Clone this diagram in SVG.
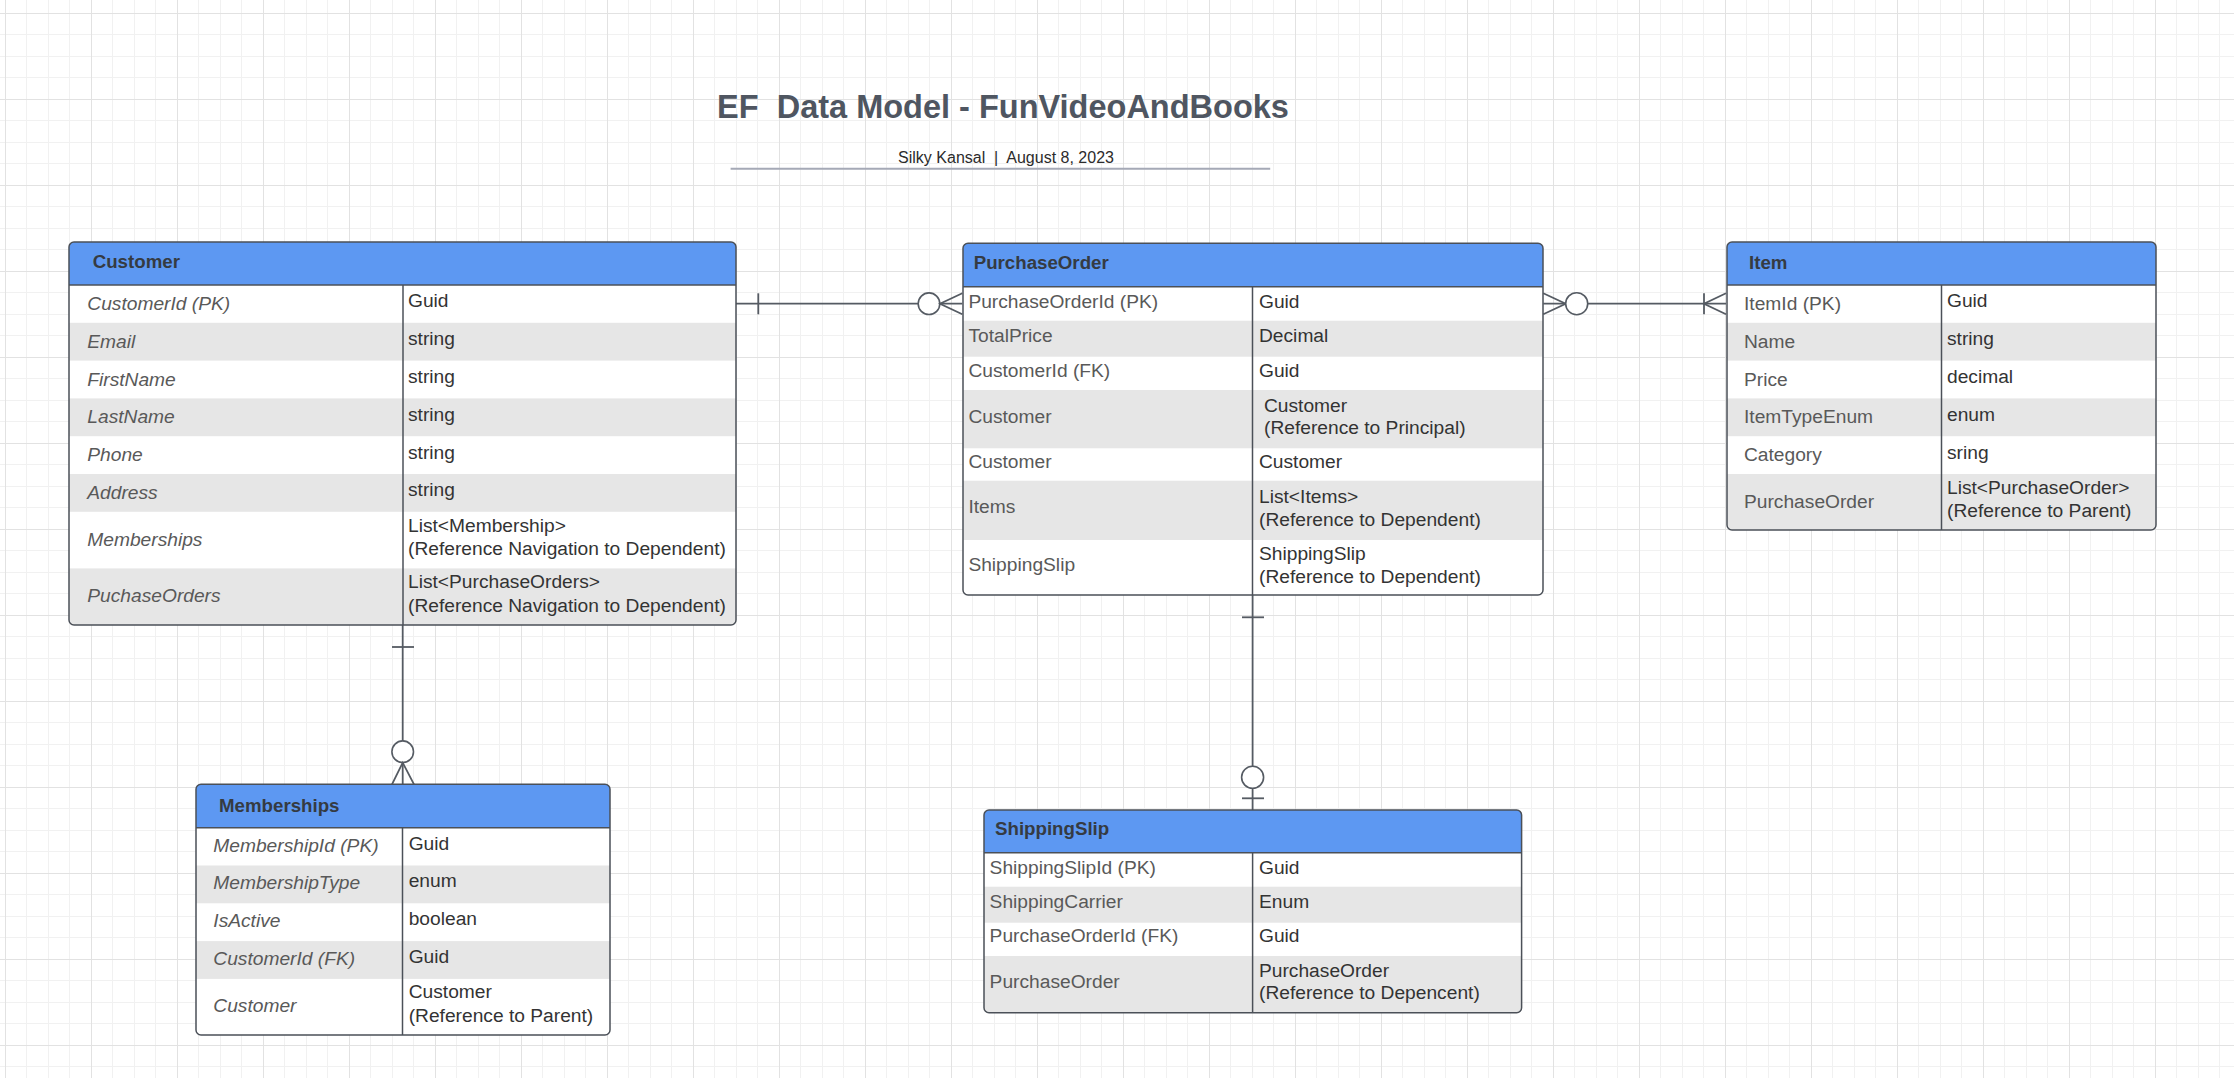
<svg xmlns="http://www.w3.org/2000/svg" width="2234" height="1078" viewBox="0 0 2234 1078">
<style>
.hdr{fill:#5d98f2}
.alt{fill:#e6e6e6}
.bg{fill:#ffffff}
.bd{fill:none;stroke:#4b5058;stroke-width:1.5}
.ln{stroke:#4b5058;stroke-width:1.5}
.ht{font-family:"Liberation Sans",Arial,sans-serif;font-weight:bold;font-size:18.7px;fill:#353b42}
.nm{font-family:"Liberation Sans",Arial,sans-serif;font-size:19.2px;fill:#595959}
.it{font-style:italic}
.vl{font-family:"Liberation Sans",Arial,sans-serif;font-size:19.2px;fill:#333333}
.conn{stroke:#555b63;stroke-width:1.8;fill:none}
.cc{stroke:#555b63;stroke-width:1.6;fill:#ffffff}
</style>
<defs>
<pattern id="grid" x="5" y="13" width="86" height="86" patternUnits="userSpaceOnUse">
<rect x="21" y="0" width="1" height="86" fill="#f1f1f1"/>
<rect x="43" y="0" width="1" height="86" fill="#f1f1f1"/>
<rect x="64" y="0" width="1" height="86" fill="#f1f1f1"/>
<rect x="0" y="21" width="86" height="1" fill="#f1f1f1"/>
<rect x="0" y="43" width="86" height="1" fill="#f1f1f1"/>
<rect x="0" y="64" width="86" height="1" fill="#f1f1f1"/>
<rect x="0" y="0" width="1" height="86" fill="#e2e2e2"/>
<rect x="0" y="0" width="86" height="1" fill="#e2e2e2"/>
</pattern>
<clipPath id="cCustomer"><rect x="69" y="242" width="667" height="383" rx="5"/></clipPath>
<clipPath id="cPO"><rect x="963" y="243.3" width="580" height="351.7" rx="5"/></clipPath>
<clipPath id="cItem"><rect x="1727" y="242" width="429" height="288" rx="5"/></clipPath>
<clipPath id="cMem"><rect x="196" y="784.3" width="414" height="250.7" rx="5"/></clipPath>
<clipPath id="cShip"><rect x="984" y="810" width="537.6" height="202.7" rx="5"/></clipPath>
</defs>
<rect width="2234" height="1078" fill="#ffffff"/>
<rect width="2234" height="1078" fill="url(#grid)"/>

<g id="title">
<text x="1003" y="118.3" text-anchor="middle" font-family="Liberation Sans, Arial, sans-serif" font-weight="bold" font-size="32.5" fill="#4f5661" xml:space="preserve">EF  Data Model - FunVideoAndBooks</text>
<text x="1006" y="163.3" text-anchor="middle" font-family="Liberation Sans, Arial, sans-serif" font-size="16" fill="#2b2b2b" xml:space="preserve">Silky Kansal  |  August 8, 2023</text>
<line x1="730.6" y1="168.7" x2="1270.2" y2="168.7" stroke="#a5a9b6" stroke-width="2"/>
</g>

<g id="connectors">
<g id="c-customer-po">
<line class="conn" x1="736" y1="303.7" x2="962.3" y2="303.7"/>
<line class="conn" x1="758.3" y1="293.3" x2="758.3" y2="314.3"/>
<circle class="cc" cx="929" cy="303.7" r="10.8"/>
<polyline class="conn" points="962.3,293.3 940,303.7 962.3,314.3"/>
</g>
<g id="c-po-item">
<line class="conn" x1="1543.3" y1="303.7" x2="1726" y2="303.7"/>
<polyline class="conn" points="1543.3,293.3 1565.7,303.7 1543.3,314.3"/>
<circle class="cc" cx="1576.7" cy="303.7" r="11"/>
<line class="conn" x1="1704" y1="293.3" x2="1704" y2="314.3"/>
<polyline class="conn" points="1726,293.3 1704,303.7 1726,314.3"/>
</g>
<g id="c-customer-mem">
<line class="conn" x1="402.7" y1="625" x2="402.7" y2="784.3"/>
<line class="conn" x1="392" y1="647" x2="414" y2="647"/>
<circle class="cc" cx="402.7" cy="751.7" r="10.8"/>
<polyline class="conn" points="392,784.3 402.7,762.7 414,784.3"/>
</g>
<g id="c-po-ship">
<line class="conn" x1="1252.6" y1="595" x2="1252.6" y2="810"/>
<line class="conn" x1="1242" y1="617.3" x2="1264" y2="617.3"/>
<circle class="cc" cx="1252.6" cy="777.3" r="11"/>
<line class="conn" x1="1242" y1="798.3" x2="1264" y2="798.3"/>
</g>
</g>

<g id="customer">
<g clip-path="url(#cCustomer)">
<rect class="bg" x="69" y="242" width="667" height="383"/>
<rect class="hdr" x="69" y="242" width="667" height="43"/>
<rect class="alt" x="69" y="322.8" width="667" height="37.8"/>
<rect class="alt" x="69" y="398.4" width="667" height="37.8"/>
<rect class="alt" x="69" y="474" width="667" height="37.8"/>
<rect class="alt" x="69" y="568.4" width="667" height="56.6"/>
</g>
<line class="ln" x1="69" y1="285" x2="736" y2="285"/>
<line class="ln" x1="403" y1="285" x2="403" y2="625"/>
<rect class="bd" x="69" y="242" width="667" height="383" rx="5"/>
<text class="ht" x="92.7" y="268.3">Customer</text>
<text class="nm it" x="87.3" y="310">CustomerId (PK)</text>
<text class="nm it" x="87.3" y="347.7">Email</text>
<text class="nm it" x="87.3" y="385.5">FirstName</text>
<text class="nm it" x="87.3" y="423.3">LastName</text>
<text class="nm it" x="87.3" y="461.1">Phone</text>
<text class="nm it" x="87.3" y="498.9">Address</text>
<text class="nm it" x="87.3" y="546.1">Memberships</text>
<text class="nm it" x="87.3" y="602.2">PuchaseOrders</text>
<text class="vl" x="408" y="307.4">Guid</text>
<text class="vl" x="408" y="345.2">string</text>
<text class="vl" x="408" y="383">string</text>
<text class="vl" x="408" y="420.8">string</text>
<text class="vl" x="408" y="458.6">string</text>
<text class="vl" x="408" y="496.4">string</text>
<text class="vl" x="408" y="531.9">List&lt;Membership&gt;</text>
<text class="vl" x="408" y="555.1">(Reference Navigation to Dependent)</text>
<text class="vl" x="408" y="588.4">List&lt;PurchaseOrders&gt;</text>
<text class="vl" x="408" y="611.7">(Reference Navigation to Dependent)</text>
</g>

<g id="purchaseorder">
<g clip-path="url(#cPO)">
<rect class="bg" x="963" y="243.3" width="580" height="351.7"/>
<rect class="hdr" x="963" y="243.3" width="580" height="43.4"/>
<rect class="alt" x="963" y="320.7" width="580" height="36"/>
<rect class="alt" x="963" y="390" width="580" height="58.3"/>
<rect class="alt" x="963" y="480.7" width="580" height="59.3"/>
</g>
<line class="ln" x1="963" y1="286.7" x2="1543" y2="286.7"/>
<line class="ln" x1="1252.5" y1="286.7" x2="1252.5" y2="595"/>
<rect class="bd" x="963" y="243.3" width="580" height="351.7" rx="5"/>
<text class="ht" x="973.7" y="269.3">PurchaseOrder</text>
<text class="nm" x="968.4" y="307.7">PurchaseOrderId (PK)</text>
<text class="nm" x="968.4" y="342.3">TotalPrice</text>
<text class="nm" x="968.4" y="376.7">CustomerId (FK)</text>
<text class="nm" x="968.4" y="422.7">Customer</text>
<text class="nm" x="968.4" y="468.3">Customer</text>
<text class="nm" x="968.4" y="513.3">Items</text>
<text class="nm" x="968.4" y="570.7">ShippingSlip</text>
<text class="vl" x="1259" y="307.7">Guid</text>
<text class="vl" x="1259" y="342.3">Decimal</text>
<text class="vl" x="1259" y="376.7">Guid</text>
<text class="vl" x="1264" y="411.7">Customer</text>
<text class="vl" x="1264" y="434">(Reference to Principal)</text>
<text class="vl" x="1259" y="468.3">Customer</text>
<text class="vl" x="1259" y="502.7">List&lt;Items&gt;</text>
<text class="vl" x="1259" y="525.7">(Reference to Dependent)</text>
<text class="vl" x="1259" y="560">ShippingSlip</text>
<text class="vl" x="1259" y="582.7">(Reference to Dependent)</text>
</g>

<g id="item">
<g clip-path="url(#cItem)">
<rect class="bg" x="1727" y="242" width="429" height="288"/>
<rect class="hdr" x="1727" y="242" width="429" height="43"/>
<rect class="alt" x="1727" y="322.8" width="429" height="37.8"/>
<rect class="alt" x="1727" y="398.4" width="429" height="37.8"/>
<rect class="alt" x="1727" y="474" width="429" height="56"/>
</g>
<line class="ln" x1="1727" y1="285" x2="2156" y2="285"/>
<line class="ln" x1="1941.5" y1="285" x2="1941.5" y2="530"/>
<rect class="bd" x="1727" y="242" width="429" height="288" rx="5"/>
<text class="ht" x="1749" y="269.3">Item</text>
<text class="nm" x="1744" y="310">ItemId (PK)</text>
<text class="nm" x="1744" y="347.7">Name</text>
<text class="nm" x="1744" y="385.5">Price</text>
<text class="nm" x="1744" y="423.3">ItemTypeEnum</text>
<text class="nm" x="1744" y="461.1">Category</text>
<text class="nm" x="1744" y="507.5">PurchaseOrder</text>
<text class="vl" x="1947" y="307.4">Guid</text>
<text class="vl" x="1947" y="345.2">string</text>
<text class="vl" x="1947" y="383">decimal</text>
<text class="vl" x="1947" y="420.8">enum</text>
<text class="vl" x="1947" y="458.6">sring</text>
<text class="vl" x="1947" y="494.3">List&lt;PurchaseOrder&gt;</text>
<text class="vl" x="1947" y="517.3">(Reference to Parent)</text>
</g>

<g id="memberships">
<g clip-path="url(#cMem)">
<rect class="bg" x="196" y="784.3" width="414" height="250.7"/>
<rect class="hdr" x="196" y="784.3" width="414" height="43.4"/>
<rect class="alt" x="196" y="865.5" width="414" height="37.8"/>
<rect class="alt" x="196" y="941.1" width="414" height="37.8"/>
</g>
<line class="ln" x1="196" y1="827.7" x2="610" y2="827.7"/>
<line class="ln" x1="402.5" y1="827.7" x2="402.5" y2="1035"/>
<rect class="bd" x="196" y="784.3" width="414" height="250.7" rx="5"/>
<text class="ht" x="219" y="811.7">Memberships</text>
<text class="nm it" x="213.3" y="851.7">MembershipId (PK)</text>
<text class="nm it" x="213.3" y="889.3">MembershipType</text>
<text class="nm it" x="213.3" y="927.3">IsActive</text>
<text class="nm it" x="213.3" y="965">CustomerId (FK)</text>
<text class="nm it" x="213.3" y="1012.3">Customer</text>
<text class="vl" x="408.7" y="850">Guid</text>
<text class="vl" x="408.7" y="887.3">enum</text>
<text class="vl" x="408.7" y="925">boolean</text>
<text class="vl" x="408.7" y="962.7">Guid</text>
<text class="vl" x="408.7" y="998.3">Customer</text>
<text class="vl" x="408.7" y="1021.7">(Reference to Parent)</text>
</g>

<g id="shippingslip">
<g clip-path="url(#cShip)">
<rect class="bg" x="984" y="810" width="537.6" height="202.7"/>
<rect class="hdr" x="984" y="810" width="537.6" height="42.7"/>
<rect class="alt" x="984" y="886.7" width="537.6" height="36"/>
<rect class="alt" x="984" y="956" width="537.6" height="56.7"/>
</g>
<line class="ln" x1="984" y1="852.7" x2="1521.6" y2="852.7"/>
<line class="ln" x1="1252.6" y1="852.7" x2="1252.6" y2="1012.7"/>
<rect class="bd" x="984" y="810" width="537.6" height="202.7" rx="5"/>
<text class="ht" x="995" y="835">ShippingSlip</text>
<text class="nm" x="989.6" y="874">ShippingSlipId (PK)</text>
<text class="nm" x="989.6" y="908.3">ShippingCarrier</text>
<text class="nm" x="989.6" y="942.3">PurchaseOrderId (FK)</text>
<text class="nm" x="989.6" y="988.3">PurchaseOrder</text>
<text class="vl" x="1259" y="874">Guid</text>
<text class="vl" x="1259" y="908.3">Enum</text>
<text class="vl" x="1259" y="942.3">Guid</text>
<text class="vl" x="1259" y="976.7">PurchaseOrder</text>
<text class="vl" x="1259" y="999.3">(Reference to Depencent)</text>
</g>
</svg>
